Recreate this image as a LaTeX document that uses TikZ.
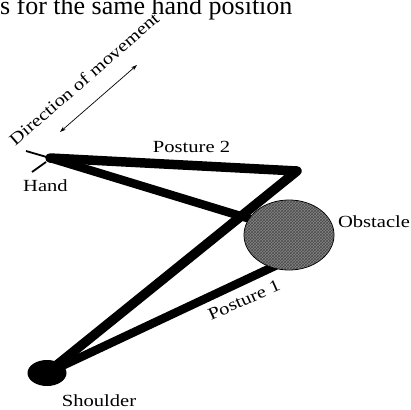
\documentclass[tikz,border=0pt]{standalone}
\usepackage{fontspec}
\usepackage{graphicx}
\setmainfont{Liberation Serif}
\usetikzlibrary{arrows.meta,patterns,shapes.geometric}
\newcommand{\lbl}[1]{\fontsize{17}{20}\selectfont\scalebox{1.21}[1]{#1}}
\begin{document}
\begin{tikzpicture}[x=1pt,y=-1pt,
  limb/.style={line width=9.5pt,line cap=round,line join=round},
  tick/.style={line width=1.8pt},
  txt/.style={inner sep=0pt,outer sep=0pt}]
\useasboundingbox (0,0) rectangle (411,409);
% title fragment
\node[txt,anchor=base west] (title) at (0,15) {\fontsize{26}{30}\selectfont s for the same hand position};
% joints
\coordinate (hand) at (50,158);
\coordinate (elbowB) at (297,171);
\coordinate (elbowA) at (326,242);
\coordinate (sh) at (47,373);
% posture 1
\draw[limb,line width=8.5pt] (sh) -- (elbowA) -- (hand);
% posture 2
\draw[limb] (sh) -- (elbowB) -- (hand);
% hand ticks
\coordinate (t1) at (26,151);
\coordinate (t2) at (32,172);
\coordinate (t2e) at (46,162);
\draw[tick] (t1) -- (hand);
\draw[tick] (t2) -- (t2e);
% shoulder
\fill (sh) ellipse [x radius=19.5, y radius=13];
% obstacle
\node[ellipse,minimum width=90pt,minimum height=70pt,draw=black,line width=0.8pt,
  fill=black!48] (obst) at (289,235) {};
\path[pattern=crosshatch,pattern color=black!70] (289,235) ellipse [x radius=44.5, y radius=34.5];
% labels
\node[txt,anchor=base] (p2) at (191.5,152) {\lbl{Posture 2}};
\node[txt,anchor=base] (hl) at (45.5,191) {\lbl{Hand}};
\node[txt,anchor=base] (ol) at (374,227) {\lbl{Obstacle}};
\node[txt,anchor=base] (sl) at (99,406) {\lbl{Shoulder}};
\node[txt,rotate=24] (p1) at (244,300) {\lbl{Posture 1}};
\node[txt,rotate=41] (dl) at (84,79) {\lbl{Direction of movement}};
% direction arrow
\coordinate (a1) at (60,132);
\coordinate (a2) at (137,65);
\draw[line width=0.7pt,{Stealth[length=6pt,width=4pt]}-{Stealth[length=6pt,width=4pt]}] (a1) -- (a2);
\end{tikzpicture}
\end{document}
